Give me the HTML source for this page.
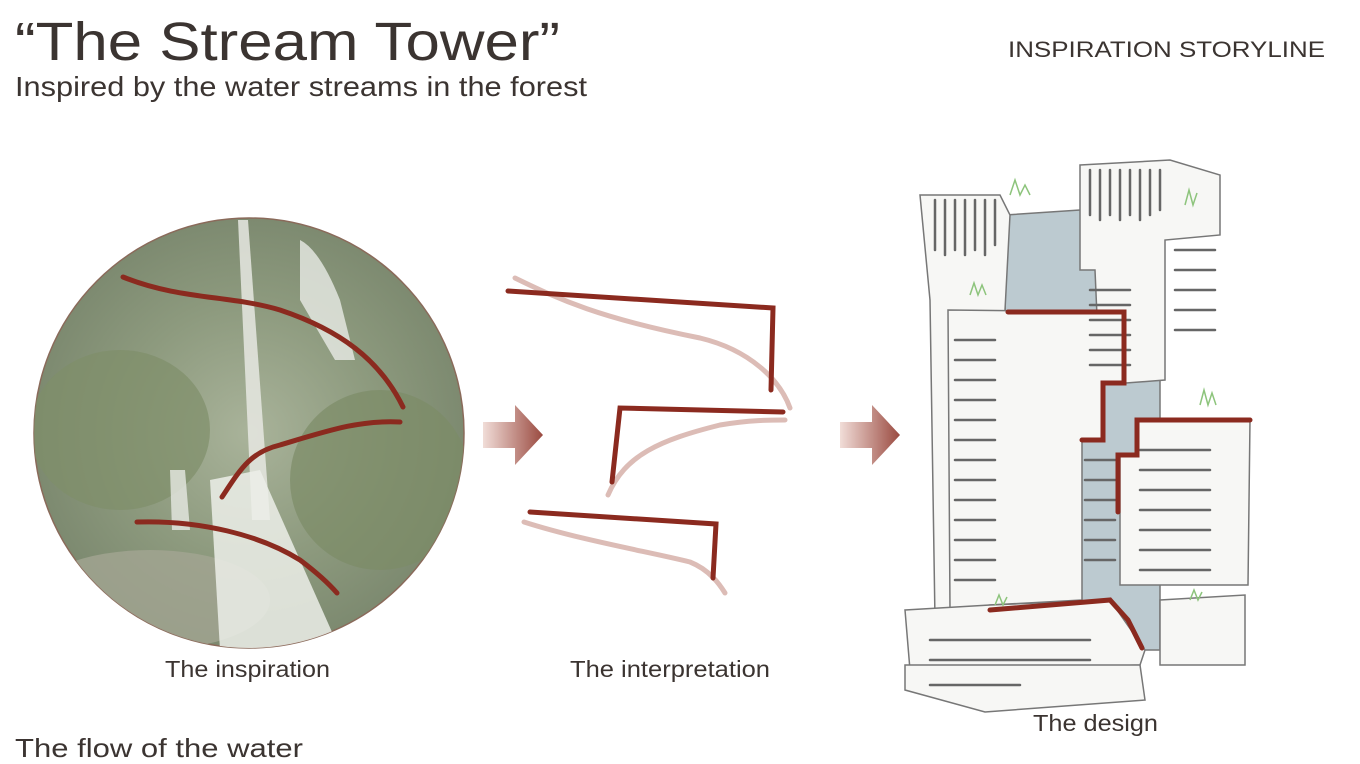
<!DOCTYPE html>
<html><head><meta charset="utf-8"><style>
html,body{margin:0;padding:0;background:#fff;width:1360px;height:764px;overflow:hidden}
svg{display:block}
</style></head><body>
<svg width="1360" height="764" viewBox="0 0 1360 764" xmlns="http://www.w3.org/2000/svg">
<defs>
<radialGradient id="rg" cx="50%" cy="50%" r="50%">
<stop offset="0" stop-color="#a9b39a"/><stop offset="0.6" stop-color="#8d9a7e"/><stop offset="1" stop-color="#7d8a70"/>
</radialGradient>
<linearGradient id="ag" x1="0" x2="1"><stop offset="0" stop-color="#f1ddd8"/><stop offset="1" stop-color="#9a4a40"/></linearGradient>
<clipPath id="cc"><circle cx="249" cy="433" r="215"/></clipPath>
</defs>
<g font-family="Liberation Sans, sans-serif" fill="#3b3431">
<text x="15" y="60" font-size="54" textLength="545" lengthAdjust="spacingAndGlyphs">“The Stream Tower”</text>
<text x="15" y="96" font-size="28" textLength="572" lengthAdjust="spacingAndGlyphs">Inspired by the water streams in the forest</text>
<text x="1008" y="57" font-size="22" textLength="317" lengthAdjust="spacingAndGlyphs">INSPIRATION STORYLINE</text>
</g>

<circle cx="249" cy="433" r="215" fill="url(#rg)" stroke="#8a6a5a" stroke-width="1.5"/>
<g clip-path="url(#cc)">
<ellipse cx="120" cy="430" rx="90" ry="80" fill="#7f8e6a" opacity=".7"/>
<ellipse cx="380" cy="480" rx="90" ry="90" fill="#7c8c66" opacity=".7"/>
<ellipse cx="150" cy="600" rx="120" ry="50" fill="#a2a592" opacity=".8"/>
<path d="M238,220 L248,220 L270,520 L252,520 Z" fill="#e6e8e2" opacity=".85"/>
<path d="M300,240 Q320,250 340,300 L355,360 L335,360 L300,300 Z" fill="#e9ebe6" opacity=".8"/>
<path d="M210,480 L260,470 L300,560 L340,650 L220,650 Z" fill="#eceee9" opacity=".85"/>
<path d="M170,470 L185,470 L190,530 L172,530 Z" fill="#e6e8e2" opacity=".8"/>
</g>
<g fill="none" stroke="#8b2a1f" stroke-width="5" stroke-linecap="round">
<path d="M123,277 C180,300 230,295 280,310 C340,330 380,360 403,407"/>
<path d="M222,497 C240,470 250,452 280,445 C330,430 360,420 400,422"/>
<path d="M137,522 C200,520 260,535 300,560 C320,575 330,585 337,593"/>
</g>

<path d="M483,422 L515,422 L515,405 L543,435 L515,465 L515,448 L483,448 Z" fill="url(#ag)"/>
<path d="M840,422 L872,422 L872,405 L900,435 L872,465 L872,448 L840,448 Z" fill="url(#ag)"/>

<g fill="none" stroke="#dcbcb6" stroke-width="5" stroke-linecap="round">
<path d="M515,278 C560,300 600,318 700,338 C750,350 780,380 790,408"/>
<path d="M608,495 C625,455 660,440 720,425 C750,420 770,420 785,420"/>
<path d="M524,522 C580,540 650,552 690,562 C710,570 720,585 725,593"/>
</g>
<g fill="none" stroke="#8b2a1f" stroke-width="5" stroke-linecap="round">
<path d="M508,291 L773,308 L771,390"/>
<path d="M783,412 L620,408 L612,482"/>
<path d="M530,512 L716,524 L713,578"/>
</g>

<g fill="#f7f7f5" stroke="#777" stroke-width="1.5">
<path d="M1005,215 L1080,210 L1160,215 L1160,650 L1005,650 Z" fill="#bccad0"/>
<path d="M920,195 L1000,195 L1010,215 L1005,310 L1000,620 L935,620 L930,300 Z"/>
<path d="M1080,165 L1170,160 L1220,175 L1220,235 L1165,240 L1165,380 L1100,385 L1095,270 L1080,270 Z"/>
<path d="M948,310 L1125,312 L1125,383 L1103,383 L1103,440 L1082,440 L1082,600 L990,605 L950,610 Z"/>
<path d="M1137,420 L1250,420 L1248,585 L1120,585 L1120,455 L1137,455 Z"/>
<path d="M905,610 L990,605 L1110,600 L1145,650 L1140,665 L910,670 Z"/>
<path d="M905,665 L1140,665 L1145,700 L985,712 L905,690 Z"/>
<path d="M1160,600 L1245,595 L1245,665 L1160,665 Z"/>
</g>
<g stroke="#666" stroke-width="2.5" stroke-linecap="round">
<path d="M955,340h40M955,360h40M955,380h40M955,400h40M955,420h40M955,440h40M955,460h40M955,480h40M955,500h40M955,520h40M955,540h40M955,560h40M955,580h40"/>
<path d="M1140,450h70M1140,470h70M1140,490h70M1140,510h70M1140,530h70M1140,550h70M1140,570h70"/>
<path d="M1175,250h40M1175,270h40M1175,290h40M1175,310h40M1175,330h40"/>
<path d="M1090,290h40M1090,305h40M1090,320h40M1090,335h40M1090,350h40M1090,365h40"/>
<path d="M1085,460h30M1085,480h30M1085,500h30M1085,520h30M1085,540h30M1085,560h30"/>
<path d="M935,200v50M945,200v55M955,200v50M965,200v55M975,200v50M985,200v55M995,200v45"/>
<path d="M1090,170v45M1100,170v50M1110,170v45M1120,170v50M1130,170v45M1140,170v50M1150,170v45M1160,170v40"/>
<path d="M930,640h160M930,660h160M930,685h90"/>
</g>
<g fill="none" stroke="#8dc47c" stroke-width="1.5">
<path d="M1010,195 l5,-15 l5,15 l5,-10 l5,10 M1185,205 l4,-15 l4,15 l4,-12 M970,295 l4,-12 l4,12 l4,-10 l4,10 M1200,405 l4,-15 l4,15 l4,-12 l4,12 M1190,600 l4,-10 l4,10 l4,-8 M995,605 l4,-10 l4,10 l4,-8"/>
</g>
<g fill="none" stroke="#8b2a1f" stroke-width="5" stroke-linecap="round">
<path d="M1008,312 L1124,312 L1124,383 L1103,383 L1103,440 L1082,440"/>
<path d="M1250,420 L1137,420 L1137,455 L1118,455 L1118,512"/>
<path d="M990,610 L1110,600 L1128,620 L1142,648"/>
</g>

<g font-family="Liberation Sans, sans-serif" font-size="23" fill="#3b3431">
<text x="165" y="677" textLength="165" lengthAdjust="spacingAndGlyphs">The inspiration</text>
<text x="570" y="677" textLength="200" lengthAdjust="spacingAndGlyphs">The interpretation</text>
<text x="1033" y="731" textLength="125" lengthAdjust="spacingAndGlyphs">The design</text>
<text x="15" y="757" font-size="26" textLength="288" lengthAdjust="spacingAndGlyphs">The flow of the water</text>
</g>
</svg>
</body></html>
